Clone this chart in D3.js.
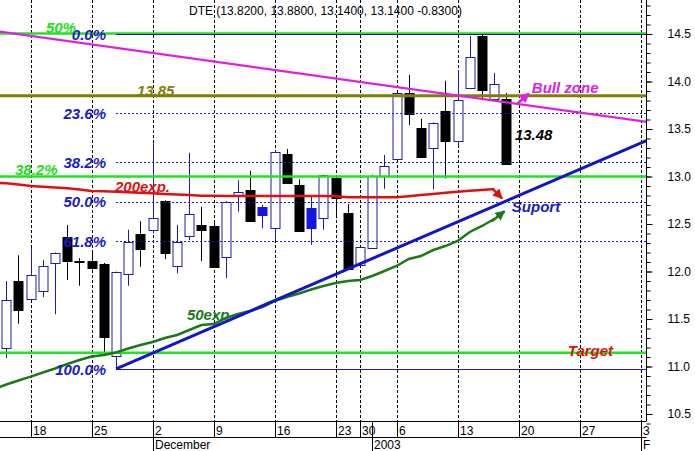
<!DOCTYPE html>
<html><head><meta charset="utf-8">
<script src="https://cdn.jsdelivr.net/npm/d3@7/dist/d3.min.js"></script>
<style>
body{margin:0;background:#fff}
svg{display:block}
text{font-family:Arial,"Liberation Sans",sans-serif}
</style>
</head><body>
<svg id="c" width="695" height="451"></svg>
<script>
// ---------- DATA ----------
const opens  = [11.20,11.90,11.71,11.80,12.10,12.36,12.115,12.11,12.08,11.11,11.97,12.395,12.43,12.745,12.06,12.38,12.49,12.48,12.15,12.805,12.86,12.68,12.455,13.24,12.91,12.665,12.56,12.98,12.62,12.07,12.25,13.005,13.18,13.876,13.507,13.307,13.69,13.374,13.93,14.48,13.81,13.82];
const highs  = [11.90,12.17,12.25,12.12,12.20,12.49,12.14,12.22,12.09,12.00,12.44,12.53,13.35,12.75,12.49,13.25,12.68,12.52,12.74,12.96,13.06,12.70,13.27,13.29,12.97,12.79,13.02,12.98,12.71,12.26,13.02,13.227,13.88,14.07,13.61,13.57,14.008,14.12,14.48,14.50,14.09,13.88];
const lows   = [11.09,11.45,11.70,11.73,11.55,11.91,11.85,12.02,11.11,10.97,11.85,12.05,12.40,12.13,11.98,12.33,12.11,12.05,11.93,12.63,12.52,12.455,12.33,12.93,12.43,12.28,12.44,12.56,12.03,12.05,12.25,12.87,13.18,13.54,13.20,12.865,12.98,13.33,13.92,13.82,13.80,13.14];
const closes = [11.70,11.59,11.96,12.06,12.20,12.11,12.10,12.04,11.31,11.99,12.31,12.24,12.56,12.20,12.31,12.61,12.44,12.05,12.73,12.84,12.53,12.595,13.26,12.935,12.43,12.455,13.016,12.77,12.03,12.255,13.01,13.11,13.876,13.658,13.20,13.566,13.377,13.805,14.26,13.91,13.97,13.14];

// exponential moving averages, first value belongs to day index -1
const maStartIndex = -1;
const ema50  = [10.763,10.811,10.853,10.893,10.937,10.979,11.026,11.068,11.105,11.121,11.147,11.189,11.226,11.258,11.300,11.332,11.384,11.437,11.447,11.511,11.553,11.584,11.626,11.689,11.732,11.768,11.811,11.847,11.879,11.900,11.911,11.953,12.005,12.058,12.132,12.163,12.226,12.268,12.321,12.416,12.479,12.553];
const ema200 = [12.937,12.928,12.915,12.901,12.893,12.884,12.876,12.862,12.848,12.844,12.840,12.835,12.828,12.823,12.817,12.811,12.804,12.798,12.797,12.796,12.795,12.795,12.795,12.795,12.795,12.795,12.795,12.795,12.792,12.781,12.781,12.781,12.781,12.782,12.793,12.804,12.816,12.828,12.840,12.850,12.859,12.868];

const dateTickIndex  = [2,7,12,17,22,27,29,32,37,42,47,52];
const dateTickLabels = ["18","25","2","9","16","23","30","6","13","20","27","3"];
const monthIndex  = [12,30,52];
const monthLabels = ["December","2003","F"];

const priceTicks = [10.5,11.0,11.5,12.0,12.5,13.0,13.5,14.0,14.5];
const priceMinor = d3.range(104,149).map(d => d/10);

const fibHigh = 14.5, fibLow = 10.97, fibStartIndex = 9;
const fibLevels = [0,0.236,0.382,0.5,0.618,1];
const fibLabels = ["0.0%","23.6%","38.2%","50.0%","61.8%","100.0%"];

const greenLevels = [14.505,13.0,11.145];
const resistanceLevel = 13.85;
const resistanceTrend = [[-0.6,14.527],[52.6,13.573]];
const supportTrend    = [[9,10.975],[52.6,13.385]];

const header = "DTE (13.8200, 13.8800, 13.1400, 13.1400 -0.8300)";

// annotations: [text, index, value, colour, anchor]
const notes = [
  ["13.85",   10.71, 13.85,  "#808000", "start"],
  ["Bull zone",43.09,13.879, "#e020e0", "start"],
  ["13.48",   41.7,  13.384, "#000000", "start"],
  ["Suport",  41.45, 12.63,  "#1a1ac8", "start"],
  ["200exp.", 8.91,  12.84,  "#e01010", "start"],
  ["50exp",   14.81, 11.489, "#1a7a1a", "start"],
  ["Target",  46.04, 11.115, "#e01010", "start"],
  ["50%",     5.71,  14.515, "#22dd22", "end"],
  ["38.2%",   0.71,  13.016, "#22dd22", "start"]
];
// arrows: [fromIndex, fromValue, toIndex, toValue, colour]
const arrows = [
  [41.85,13.76, 42.85,13.875, "#e020e0"],
  [39.9, 12.868,40.65,12.77,  "#e01010"],
  [39.8, 12.53, 40.85,12.635, "#1a7a1a"]
];

// ---------- CHART ----------
const svg = d3.select("#c");
const W = 646.5, H = 421;
const x = d3.scaleLinear().domain([-0.516, 52.49]).range([0, W]);
const y = d3.scaleLinear().domain([10.5, 14.5]).range([414, 34]);

const defs = svg.append("defs");
defs.append("clipPath").attr("id","clip").append("rect").attr("x",0).attr("y",0).attr("width",W).attr("height",H);
arrows.forEach((a,i)=>{
  defs.append("marker").attr("id","ah"+i).attr("viewBox","0 0 10 10").attr("refX",9).attr("refY",5)
    .attr("markerWidth",4).attr("markerHeight",4).attr("orient","auto")
    .append("path").attr("d","M0,0 L10,5 L0,10 Z").attr("fill",a[4]);
});

const plot = svg.append("g").attr("clip-path","url(#clip)");

// vertical dotted gridlines
plot.selectAll("line.vg").data(dateTickIndex).join("line")
  .attr("x1",d=>Math.round(x(d))+0.5).attr("x2",d=>Math.round(x(d))+0.5)
  .attr("y1",0).attr("y2",H)
  .attr("stroke","#000").attr("stroke-width",1).attr("stroke-dasharray","3,2");

// candles
const idx = d3.range(opens.length);
const up = i => closes[i] >= opens[i];
const colour = i => (i === 0 || closes[i] >= closes[i-1]) ? (up(i) ? "#1c1ca8" : "#1414e6") : "#000";
const cg = plot.append("g");
cg.selectAll("line.w").data(idx).join("line")
  .attr("x1",i=>Math.round(x(i))+0.5).attr("x2",i=>Math.round(x(i))+0.5)
  .attr("y1",i=>y(highs[i])).attr("y2",i=>y(lows[i]))
  .attr("stroke",colour).attr("stroke-width",1);
cg.selectAll("rect.b").data(idx).join("rect")
  .attr("x",i=>Math.round(x(i))-4)
  .attr("width",9)
  .attr("y",i=>Math.round(y(Math.max(opens[i],closes[i])))+0.5)
  .attr("height",i=>Math.max(1,Math.round(Math.abs(y(opens[i])-y(closes[i])))))
  .attr("fill",i=>up(i) ? "#fff" : colour(i))
  .attr("stroke",colour).attr("stroke-width",1);

// green horizontal levels
plot.selectAll("line.gl").data(greenLevels).join("line")
  .attr("x1",0).attr("x2",W).attr("y1",d=>y(d)).attr("y2",d=>y(d))
  .attr("stroke","#1ee61e").attr("stroke-width",2.5);

// resistance level
plot.append("line").attr("x1",0).attr("x2",W)
  .attr("y1",y(resistanceLevel)).attr("y2",y(resistanceLevel))
  .attr("stroke","#808000").attr("stroke-width",3);

// fib levels
const fibVal = f => fibHigh - f*(fibHigh - fibLow);
plot.selectAll("line.fib").data(fibLevels).join("line")
  .attr("x1",x(fibStartIndex)).attr("x2",W)
  .attr("y1",d=>Math.round(y(fibVal(d)))+0.5).attr("y2",d=>Math.round(y(fibVal(d)))+0.5)
  .attr("stroke","#1c1cb0").attr("stroke-width",1)
  .attr("stroke-dasharray",d=>(d===0||d===1)?null:"2,2");

// moving averages
const maLine = d3.line().x((d,i)=>x(i+maStartIndex)).y(d=>y(d));
plot.append("path").attr("d",maLine(ema200)).attr("fill","none").attr("stroke","#e01010").attr("stroke-width",2.5);
plot.append("path").attr("d",maLine(ema50)).attr("fill","none").attr("stroke","#1a7a1a").attr("stroke-width",2.5);

// trendlines
const tl = d3.line().x(d=>x(d[0])).y(d=>y(d[1]));
plot.append("path").attr("d",tl(resistanceTrend)).attr("fill","none").attr("stroke","#e020e0").attr("stroke-width",2.2);
plot.append("path").attr("d",tl(supportTrend)).attr("fill","none").attr("stroke","#1414c8").attr("stroke-width",3);

// arrows
arrows.forEach((a,i)=>{
  plot.append("line").attr("x1",x(a[0])).attr("y1",y(a[1])).attr("x2",x(a[2])).attr("y2",y(a[3]))
    .attr("stroke",a[4]).attr("stroke-width",2.5).attr("marker-end","url(#ah"+i+")");
});

// fib labels
svg.selectAll("text.fib").data(fibLevels).join("text")
  .attr("x",x(8.18)).attr("y",d=>y(fibVal(d))+5.5)
  .attr("text-anchor","end").attr("font-size",15).attr("font-weight","bold").attr("font-style","italic")
  .attr("fill","#1a1ac8").text((d,i)=>fibLabels[i]);

// annotations
svg.selectAll("text.note").data(notes).join("text")
  .attr("x",d=>x(d[1])).attr("y",d=>y(d[2]))
  .attr("text-anchor",d=>d[4]).attr("font-size",15).attr("font-weight","bold").attr("font-style","italic")
  .attr("fill",d=>d[3]).text(d=>d[0]);

// header
svg.append("text").attr("x",189).attr("y",14.5).attr("font-size",12).attr("fill","#000").text(header);

// right axis
svg.append("line").attr("x1",W).attr("x2",W).attr("y1",0).attr("y2",H).attr("stroke","#000");
const ra = svg.append("g").attr("transform",`translate(${W},0)`)
  .call(d3.axisRight(y).tickValues(priceTicks).tickSize(6).tickPadding(15).tickFormat(d3.format(".1f")));
ra.select(".domain").remove();
ra.selectAll("text").attr("font-size",12).attr("font-family","Arial, Liberation Sans, sans-serif").attr("fill","#000");
const rm = svg.append("g").attr("transform",`translate(${W},0)`)
  .call(d3.axisRight(y).tickValues(priceMinor).tickSize(4).tickFormat(""));
rm.select(".domain").remove();

// bottom axis
const bx = svg.append("g");
bx.append("line").attr("x1",0).attr("x2",W).attr("y1",H+0.5).attr("y2",H+0.5).attr("stroke","#000");
bx.append("line").attr("x1",0).attr("x2",W).attr("y1",437.5).attr("y2",437.5).attr("stroke","#000");
bx.selectAll("line.t").data(dateTickIndex).join("line")
  .attr("x1",d=>Math.round(x(d))+0.5).attr("x2",d=>Math.round(x(d))+0.5)
  .attr("y1",H).attr("y2",437).attr("stroke","#000");
bx.selectAll("text.t").data(dateTickIndex).join("text")
  .attr("x",d=>Math.round(x(d))+2).attr("y",434.5).attr("font-size",12).attr("fill","#000")
  .text((d,i)=>dateTickLabels[i]);
bx.selectAll("line.m").data(monthIndex).join("line")
  .attr("x1",d=>Math.round(x(d))+0.5).attr("x2",d=>Math.round(x(d))+0.5)
  .attr("y1",H).attr("y2",451).attr("stroke","#000");
bx.selectAll("text.m").data(monthIndex).join("text")
  .attr("x",d=>Math.round(x(d))+2).attr("y",448.5).attr("font-size",12).attr("fill","#000")
  .text((d,i)=>monthLabels[i]);
</script>
</body></html>
